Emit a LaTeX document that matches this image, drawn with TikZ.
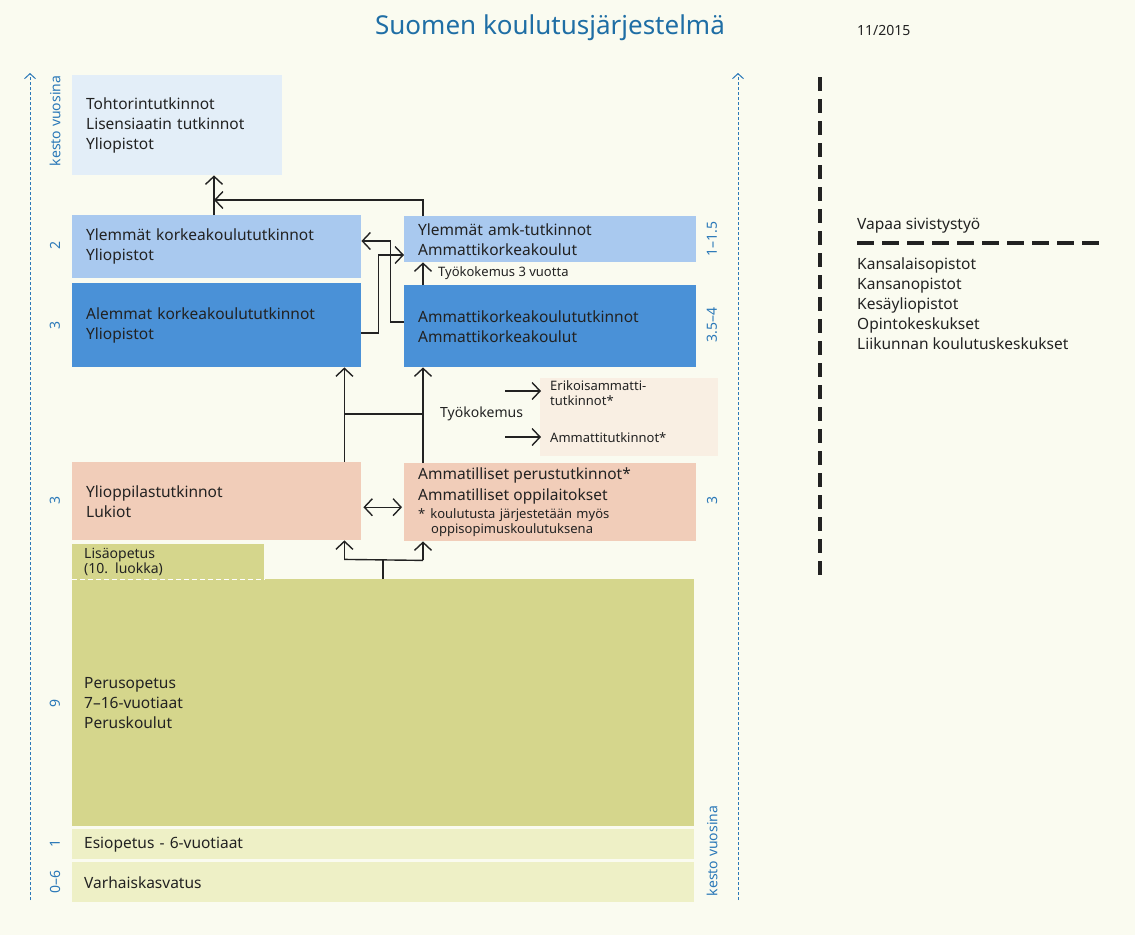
\documentclass[tikz,border=0pt]{standalone}
\usepackage{fontspec}
\setmainfont{Noto Sans}
\usetikzlibrary{arrows.meta,calc}
\definecolor{bg}{HTML}{FAFBF0}
\definecolor{tohtc}{HTML}{E3EEF8}
\definecolor{lblue}{HTML}{A9C9EF}
\definecolor{mblue}{HTML}{4A91D7}
\definecolor{peach}{HTML}{F1CDB9}
\definecolor{fpeach}{HTML}{F9EFE3}
\definecolor{olive}{HTML}{D5D68C}
\definecolor{lolive}{HTML}{EEF0C6}
\definecolor{axblue}{HTML}{2A78B8}
\definecolor{titleblue}{HTML}{1F6EA5}
\definecolor{dk}{HTML}{222222}
\begin{document}
\begin{tikzpicture}[x=1pt,y=-1pt,
  box/.style={anchor=north west, inner xsep=14pt, inner ysep=0pt, align=left, text=dk,
     font=\fontsize{15.5}{20}\selectfont},
  smallbox/.style={box, inner xsep=12pt, font=\fontsize{14}{14.5}\selectfont},
  tip/.tip={Straight Barb[length=8pt,width=17pt,line width=1.4pt]},
  arr/.style={draw=dk, line width=1.4pt, -tip},
  darr/.style={draw=dk, line width=1.4pt, tip-tip},
  ln/.style={draw=dk, line width=1.4pt},
  axis/.style={draw=axblue, line width=1pt, dash pattern=on 3pt off 2pt, -{Straight Barb[length=5pt,width=11pt,line width=1pt]}},
  axlab/.style={rotate=90, text=axblue, font=\fontsize{14}{16}\selectfont, inner sep=0pt},
  lbl/.style={text=dk, inner sep=0pt, font=\fontsize{13}{15}\selectfont, align=left},
  bigdash/.style={draw=dk, line width=4.5pt, dash pattern=on 14pt off 8pt},
]
\useasboundingbox (0,0) rectangle (1135,935);
\fill[bg] (0,0) rectangle (1135,935);

% title
\node[text=titleblue, font=\fontsize{26}{30}\selectfont, inner sep=0pt] (title) at (550,28) {Suomen koulutusjärjestelmä};
\node[text=dk, font=\fontsize{14}{15}\selectfont, anchor=west, inner sep=0pt] (date) at (857,30) {11/2015};

% boxes
\node[box, fill=tohtc, minimum width=210pt, minimum height=100pt, text width=182pt] (toht) at (72,75)
  {Tohtorintutkinnot\\Lisensiaatin tutkinnot\\Yliopistot};
\node[box, fill=lblue, minimum width=289pt, minimum height=63pt, text width=261pt] (ylk) at (72,215)
  {Ylemmät korkeakoulututkinnot\\Yliopistot};
\node[box, fill=mblue, minimum width=289pt, minimum height=84pt, text width=261pt] (alk) at (72,283)
  {Alemmat korkeakoulututkinnot\\Yliopistot};
\node[box, fill=lblue, minimum width=292pt, minimum height=46pt, text width=264pt] (yamk) at (404,216)
  {Ylemmät amk-tutkinnot\\Ammattikorkeakoulut};
\node[box, fill=mblue, minimum width=292pt, minimum height=82pt, text width=264pt] (amk) at (404,285)
  {Ammattikorkeakoulututkinnot\\Ammattikorkeakoulut};
\fill[fpeach] (540,378) rectangle (718,456);
\node[box, fill=peach, minimum width=289pt, minimum height=78pt, text width=261pt] (luk) at (72,462)
  {Ylioppilastutkinnot\\Lukiot};
\node[box, fill=peach, minimum width=292pt, minimum height=78pt, text width=264pt,
      font=\fontsize{13}{15}\selectfont] (amm) at (404,463)
  {{\fontsize{15.5}{19}\selectfont Ammatilliset perustutkinnot*}\\[4pt]
   {\fontsize{15.5}{19}\selectfont Ammatilliset oppilaitokset}\\[3pt]
   *\hspace{5pt}koulutusta järjestetään myös\\\hspace{13pt}oppisopimuskoulutuksena};
\node[smallbox, fill=olive, minimum width=192pt, minimum height=35pt, text width=168pt] (lisa) at (72,544)
  {Lisäopetus\\(10. luokka)};
\node[box, inner xsep=12pt, fill=olive, minimum width=622pt, minimum height=247pt, text width=598pt] (perus) at (72,579)
  {Perusopetus\\7–16-vuotiaat\\Peruskoulut};
\draw[white, line width=1.2pt, dash pattern=on 5pt off 3pt] (lisa.south west) -- (lisa.south east);
\node[box, inner xsep=12pt, fill=lolive, minimum width=622pt, minimum height=30pt, text width=598pt] (esi) at (72,829)
  {Esiopetus - 6-vuotiaat};
\node[box, inner xsep=12pt, fill=lolive, minimum width=622pt, minimum height=40pt, text width=598pt] (varh) at (72,862)
  {Varhaiskasvatus};

% connectors upper
\coordinate (jtop) at (214,200);
\draw[arr] (ylk.north -| jtop) -- (toht.south -| jtop);
\draw[arr] ($(yamk.north west)+(19,0)$) |- (jtop);
\draw[arr] ($(amk.north west)+(0,37)$) -| ($(ylk.east)+(29,0)$) |- ($(ylk.north east)+(0,26)$);
\draw[arr] ($(alk.north east)+(0,50)$) -| ($(alk.east)+(17,0)$) |- ($(yamk.north west)+(0,39)$);
\draw[arr] ($(amk.north west)+(19,0)$) -- ($(yamk.south west)+(19,0)$);
\node[lbl, anchor=west] (tk3) at (438,273) {Työkokemus 3 vuotta};

% middle connectors
\draw[arr] ($(luk.north east)+(-17,0)$) -- ($(alk.south east)+(-17,0)$);
\draw[arr] ($(amm.north west)+(19,0)$) -- ($(amk.south west)+(19,0)$);
\draw[ln] ($(luk.north east)+(-17,-48)$) -- ($(amm.north west)+(19,-49)$);
\node[lbl, anchor=west, font=\fontsize{14}{15}\selectfont] (tk) at (440,414) {Työkokemus};
\node[lbl, anchor=west] (erik) at (550,393) {Erikoisammatti-\\tutkinnot*};
\node[lbl, anchor=west] (ammt) at (550,438) {Ammattitutkinnot*};
\draw[arr] ($(erik.west)+(-45,-2)$) -- ($(erik.west)+(-9,-2)$);
\draw[arr] ($(ammt.west)+(-45,-1)$) -- ($(ammt.west)+(-9,-1)$);
\draw[darr] ($(luk.east)+(2,6)$) -- ($(amm.west)+(-2,5)$);

% lower connectors
\coordinate (jlow) at (383,560);
\draw[ln] (perus.north -| jlow) -- (jlow);
\draw[arr] ($(luk.south east)+(-17,20)$) -- ($(luk.south east)+(-17,0)$);
\draw[arr] ($(amm.south west)+(19,19)$) -- ($(amm.south west)+(19,0)$);
\draw[ln] ($(luk.south east)+(-17,19)$) -- ($(amm.south west)+(19,19)$);

% axes
\coordinate (axlb) at (30,900);
\coordinate (axlt) at (30,73);
\coordinate (axrb) at (738,900);
\coordinate (axrt) at (738,73);
\draw[axis] (axlb) -- (axlt);
\draw[axis] (axrb) -- (axrt);
\node[axlab] (kl) at (55,121) {kesto vuosina};
\node[axlab] (n1) at (55,245) {2};
\node[axlab] (n2) at (55,325) {3};
\node[axlab] (n3) at (55,500) {3};
\node[axlab] (n4) at (55,703) {9};
\node[axlab] (n5) at (55,843) {1};
\node[axlab] (n6) at (55,882) {0–6};
\node[axlab] (r1) at (712,239) {1–1.5};
\node[axlab] (r2) at (712,325) {3.5–4};
\node[axlab] (r3) at (712,500) {3};
\node[axlab] (kr) at (712,851) {kesto vuosina};

% vapaa sivistystyö
\coordinate (vd1) at (820,77);
\coordinate (vd2) at (820,582);
\draw[bigdash] (vd1) -- (vd2);
\node[text=dk, anchor=west, inner sep=0pt, font=\fontsize{15.5}{16}\selectfont] (vapaa) at (857,226) {Vapaa sivistystyö};
\coordinate (hd1) at (857,243);
\coordinate (hd2) at (1102,243);
\draw[draw=dk, line width=4pt, dash pattern=on 17pt off 8pt] (hd1) -- (hd2);
\node[text=dk, anchor=north west, inner sep=0pt, align=left, font=\fontsize{15.5}{20}\selectfont] (list) at (857,258)
  {Kansalaisopistot\\Kansanopistot\\Kesäyliopistot\\Opintokeskukset\\Liikunnan koulutuskeskukset};
\end{tikzpicture}
\end{document}
